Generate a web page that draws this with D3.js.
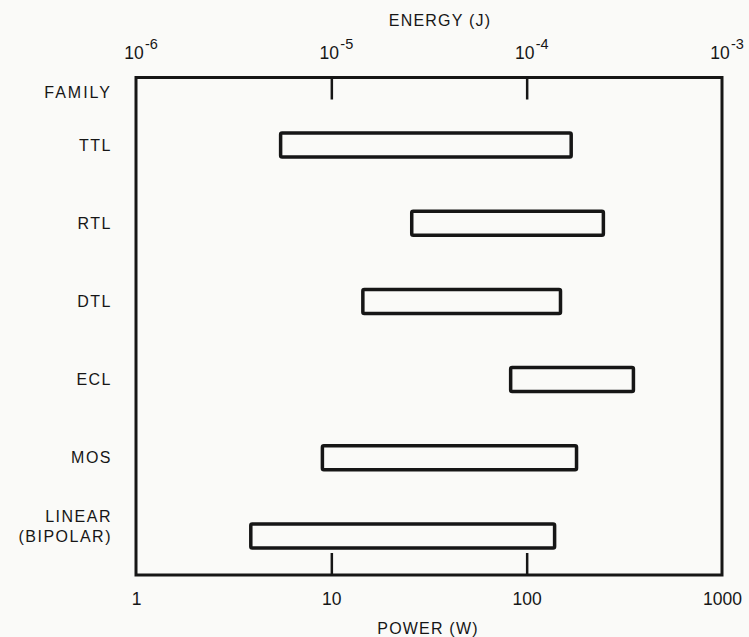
<!DOCTYPE html>
<html>
<head>
<meta charset="utf-8">
<script src="https://cdn.jsdelivr.net/npm/d3@7"></script>
<style>
  html, body { margin: 0; padding: 0; background: #fafaf8; }
  svg { display: block; }
  text { font-family: "Liberation Sans", Arial, Helvetica, sans-serif; fill: #161616; }
</style>
</head>
<body>
<svg id="chart" width="749" height="637"></svg>
<script>
// ---- data ----
const families = ["TTL", "RTL", "DTL", "ECL", "MOS", "LINEAR (BIPOLAR)"];
const familyLabelLines = [["TTL"], ["RTL"], ["DTL"], ["ECL"], ["MOS"], ["LINEAR", "(BIPOLAR)"]];
const powerMin = [5.5, 25.8, 14.5, 82.8, 9.0, 3.87];   // W
const powerMax = [169, 247, 149, 352, 180, 139];       // W
const powerTicks = [1, 10, 100, 1000];
const powerTickLabels = ["1", "10", "100", "1000"];
const energyTicks = [1e-6, 1e-5, 1e-4, 1e-3];
const energyExponents = ["-6", "-5", "-4", "-3"];
const headerLabel = "FAMILY";
const xTitle = "POWER (W)";
const topTitle = "ENERGY (J)";

// ---- layout ----
const frame = { left: 136, right: 722, top: 77.5, bottom: 575 };
const ink = "#161616";

const svg = d3.select("#chart");

const x = d3.scaleLog().domain([1, 1000]).range([frame.left, frame.right]);
const xE = d3.scaleLog().domain([1e-6, 1e-3]).range([frame.left, frame.right]);
const y = d3.scalePoint().domain(families).range([145, 536]);

// frame
svg.append("rect")
  .attr("x", frame.left).attr("y", frame.top)
  .attr("width", frame.right - frame.left)
  .attr("height", frame.bottom - frame.top)
  .attr("fill", "none").attr("stroke", ink).attr("stroke-width", 3);

// bottom axis (power)
const bottomAxis = d3.axisBottom(x)
  .tickValues(powerTicks)
  .tickFormat((d, i) => powerTickLabels[i])
  .tickSizeInner(-22).tickSizeOuter(0).tickPadding(18);
const gB = svg.append("g").attr("transform", `translate(0,${frame.bottom})`).call(bottomAxis);
gB.select(".domain").remove();
gB.selectAll(".tick line").attr("stroke", ink).attr("stroke-width", 2.5)
  .filter(d => d === 1 || d === 1000).remove();
gB.selectAll(".tick text")
  .attr("font-size", 17.5).attr("fill", ink)
  .style("font-family", "'Liberation Sans', Arial, sans-serif");

// top axis (energy)
const topAxis = d3.axisTop(xE)
  .tickValues(energyTicks.slice(1, 3))
  .tickFormat("")
  .tickSizeInner(-22).tickSizeOuter(0);
const gT = svg.append("g").attr("transform", `translate(0,${frame.top})`).call(topAxis);
gT.select(".domain").remove();
gT.selectAll(".tick line").attr("stroke", ink).attr("stroke-width", 2.5);

// top tick labels: "10" with superscript exponent
const topLab = svg.append("g");
topLab.selectAll("text.base")
  .data(energyTicks)
  .join("text")
  .attr("class", "base")
  .attr("x", d => xE(d) - 2)
  .attr("y", 59)
  .attr("text-anchor", "middle")
  .attr("font-size", 17.5)
  .text("10");
topLab.selectAll("text.exp")
  .data(energyTicks)
  .join("text")
  .attr("class", "exp")
  .attr("x", d => xE(d) + 9)
  .attr("y", 49)
  .attr("font-size", 14.5)
  .text((d, i) => energyExponents[i]);

// titles
svg.append("text")
  .attr("x", 440).attr("y", 26)
  .attr("text-anchor", "middle")
  .attr("font-size", 16)
  .attr("letter-spacing", 1.2)
  .text(topTitle);
svg.append("text")
  .attr("x", 428).attr("y", 634)
  .attr("text-anchor", "middle")
  .attr("font-size", 16)
  .attr("letter-spacing", 1.2)
  .text(xTitle);

// header
svg.append("text")
  .attr("x", 112).attr("y", 92)
  .attr("dy", "0.35em")
  .attr("text-anchor", "end")
  .attr("font-size", 16)
  .attr("letter-spacing", 2)
  .text(headerLabel);

// category labels
const labG = svg.append("g");
families.forEach((f, i) => {
  const lines = familyLabelLines[i];
  lines.forEach((ln, j) => {
    labG.append("text")
      .attr("x", 112)
      .attr("y", y(f) - (lines.length - 1 - j) * 20)
      .attr("dy", "0.35em")
      .attr("text-anchor", "end")
      .attr("font-size", 16)
      .attr("letter-spacing", 1.5)
      .text(ln);
  });
});

// bars
const barH = 24;
svg.append("g")
  .selectAll("rect")
  .data(families)
  .join("rect")
  .attr("x", (d, i) => x(powerMin[i]))
  .attr("width", (d, i) => x(powerMax[i]) - x(powerMin[i]))
  .attr("y", d => y(d) - barH / 2)
  .attr("height", barH)
  .attr("rx", 1.5)
  .attr("fill", "none")
  .attr("stroke", ink)
  .attr("stroke-width", 3.5);
</script>
</body>
</html>
